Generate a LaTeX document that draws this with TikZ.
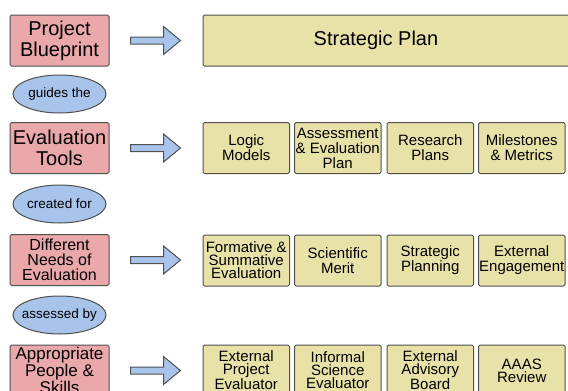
\documentclass[tikz,border=0pt]{standalone}
\usepackage{fontspec}
\setmainfont{Liberation Sans}
\usetikzlibrary{shapes.geometric}

\definecolor{edge}{HTML}{505050}
\definecolor{pinkfill}{HTML}{EAA8AA}
\definecolor{sandfill}{HTML}{E8E2A9}
\definecolor{bluefill}{HTML}{A8C4EB}

\tikzset{
  base/.style={draw=edge, line width=1pt, rounded corners=1.5pt, inner sep=0pt, align=center},
  stage/.style={base, fill=pinkfill, minimum width=99pt, minimum height=51pt},
  item/.style={base, fill=sandfill, minimum width=86.5pt, minimum height=51pt, font=\fontsize{15}{15}\selectfont},
  tight/.style={font=\fontsize{15}{13}\selectfont},
  link/.style={ellipse, draw=edge, line width=1pt, fill=bluefill, minimum width=93pt, minimum height=38pt, inner sep=0pt, font=\fontsize{13.5}{14}\selectfont},
  pointer/.style={draw=edge, line width=1pt, fill=bluefill, line join=miter}
}
% phrase inside an ellipse, kept narrow so the ellipse keeps its set size
\newcommand{\phrase}[1]{\makebox[40pt]{#1}}

\begin{document}
\begin{tikzpicture}[x=1pt, y=-1pt]
  \useasboundingbox (0,0) rectangle (568,391);
  \clip (0,0) rectangle (568,391);
  \fill[white] (0,0) rectangle (568,391);

  % left column: stages and the phrases linking them
  \node[stage, font=\fontsize{20}{21}\selectfont] (s1) at (59.5,40.5) {Project\\Blueprint};
  \node[link] (l1) at (59.5,94) {\phrase{guides the}};
  \node[stage, font=\fontsize{20}{21}\selectfont] (s2) at (59.5,148) {Evaluation\\Tools};
  \node[link] (l2) at (59.5,204) {\phrase{created for}};
  \node[stage, font=\fontsize{16}{15}\selectfont] (s3) at (59.5,260) {Different\\Needs of\\Evaluation};
  \node[link] (l3) at (59.5,315) {\phrase{assessed by}};
  \node[stage, font=\fontsize{17}{13}\selectfont] (s4) at (59.5,370.5) {Appropriate\\People \&\\Skills};

  % block arrows
  \foreach \s in {s1,s2,s3,s4}{
    \draw[pointer] ([xshift=21pt]\s.east) ++(0,-3.5) -- ++(33,0) -- ++(0,-10.5)
      -- ++(17,14) -- ++(-17,14) -- ++(0,-10.5) -- ++(-33,0) -- cycle;
  }

  % first row: the plan
  \node[base, fill=sandfill, minimum width=367pt, minimum height=51pt] (plan) at (386.5,40.5) {};
  \node[font=\fontsize{20}{21}\selectfont] (plantext) at (376,40.5) {Strategic Plan};

  % second row: tools
  \node[item] (t1) at (246.25,148) {Logic\\Models};
  \node[item] (t2) at (337.75,148) {Assessment\\\& Evaluation\\Plan};
  \node[item] (t3) at (430.25,148) {Research\\Plans};
  \node[item] (t4) at (521.75,148) {Milestones\\\& Metrics};

  % third row: needs
  \node[item, tight] (n1) at (246.25,260.5) {Formative \&\\Summative\\Evaluation};
  \node[item] (n2) at (337.75,260.5) {Scientific\\Merit};
  \node[item] (n3) at (430.25,260.5) {Strategic\\Planning};
  \node[item] (n4) at (521.75,260.5) {External\\Engagement};

  % fourth row: people
  \node[item, tight] (p1) at (246.25,370.5) {External\\Project\\Evaluator};
  \node[item, tight] (p2) at (337.75,370.5) {Informal\\Science\\Evaluator};
  \node[item, tight] (p3) at (430.25,370.5) {External\\Advisory\\Board};
  \node[item, tight] (p4) at (521.75,370.5) {AAAS\\Review};
\end{tikzpicture}
\end{document}
